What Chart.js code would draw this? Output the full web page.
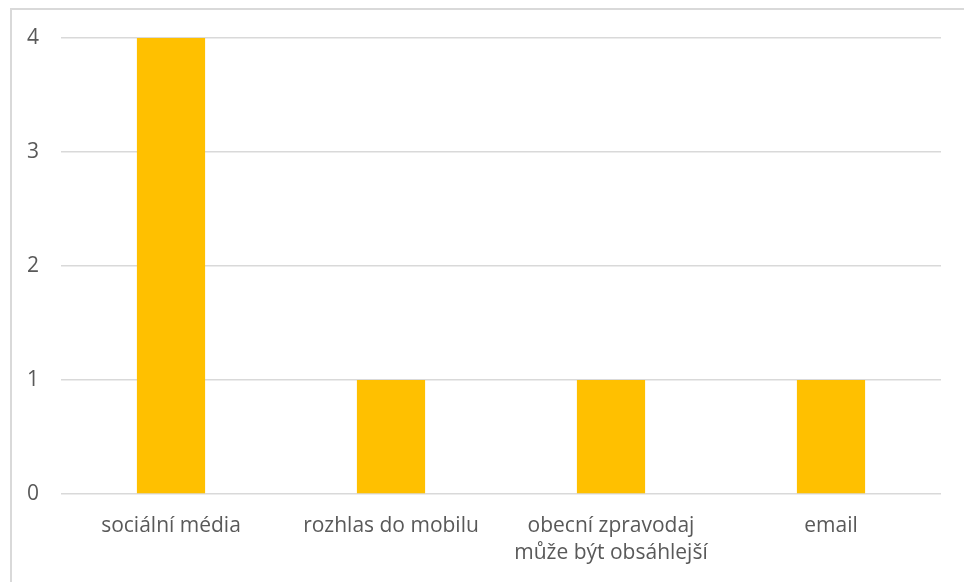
<!DOCTYPE html>
<html>
<head>
<meta charset="utf-8">
<script src="https://cdn.jsdelivr.net/npm/chart.js@4"></script>
<style>
  html, body { margin: 0; padding: 0; background: #fff; }
  #wrap { position: relative; width: 964px; height: 582px; overflow: hidden; }
  #frame { position: absolute; left: 10px; top: 8px; width: 1000px; height: 700px; border: 2px solid #d9d9d9; box-sizing: border-box; }
  #box { position: absolute; left: 0; top: 0; width: 964px; height: 582px; }
</style>
</head>
<body>
<div id="wrap">
  <div id="frame"></div>
  <div id="box"><canvas id="myChart"></canvas></div>
</div>
<script>
// data
const categories = ["sociální média", "rozhlas do mobilu", ["obecní zpravodaj", "může být obsáhlejší"], "email"];
const counts = [4, 1, 1, 1];
const yTicks = [0, 1, 2, 3, 4];

const textColor = "#595959";
const gridColor = "#d9d9d9";
const font = { family: "'Open Sans', sans-serif", size: 21, lineHeight: 1.3 };

let ctx = document.getElementById("myChart").getContext("2d");
let myChart = new Chart(ctx, {
  type: "bar",
  data: {
    labels: categories,
    datasets: [{
      label: "počet",
      data: counts,
      backgroundColor: "#ffc000",
      borderWidth: 0,
      categoryPercentage: 1,
      barPercentage: 0.31
    }]
  },
  options: {
    responsive: true,
    maintainAspectRatio: false,
    animation: false,
    layout: { padding: { left: 0, right: 23, top: 38, bottom: 0 } },
    plugins: { legend: { display: false }, tooltip: { enabled: false } },
    scales: {
      x: {
        grid: { display: false, drawTicks: false },
        border: { display: false },
        ticks: { color: textColor, font: font, padding: 18, maxRotation: 0, autoSkip: false },
        afterFit: (s) => { s.height = 88; }
      },
      y: {
        min: 0,
        max: 4,
        afterBuildTicks: (s) => { s.ticks = yTicks.map(v => ({ value: v })); },
        grid: { color: gridColor, lineWidth: 1.5, drawTicks: false },
        border: { display: false },
        ticks: { color: textColor, font: font, padding: 22 },
        afterFit: (s) => { s.width = 61; }
      }
    }
  }
});
</script>
</body>
</html>
